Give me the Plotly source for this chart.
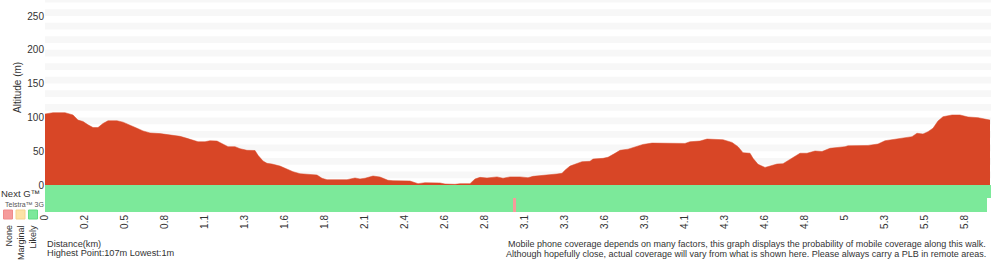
import plotly.graph_objects as go

# ---------------- data ----------------
sample_point = [0, 2, 5, 6.25, 7, 8.25, 9.5, 10.75, 12, 13.25, 14.5, 15.75, 18, 19.5, 21.25, 23, 24.5,
                26.25, 28.75, 32, 33.75, 35.5, 37, 38.25, 40, 41.25, 43, 44.5, 45.75, 47.5, 48.75, 50.5,
                52.5, 53.25, 54.5, 55.5, 56.75, 58.75, 60.5, 62, 63.75, 65.5, 68, 69.25, 70.5, 75.5,
                77.5, 78.75, 80, 82, 83.75, 85.75, 87, 91.25, 93.25, 95, 98.75, 100, 102.5, 103.75,
                106.25, 107.5, 108.75, 110.5, 113, 114.5, 116.25, 118.75, 120.75, 122, 125.5, 128,
                129.25, 130, 131.25, 132.5, 134.25, 136.25, 137, 139.5, 140.75, 142.5, 143.75, 145.75,
                147.5, 149.5, 151.75, 154.5, 155.5, 160, 161.25, 163.75, 165.5, 169.5, 171.75, 173.25,
                174.5, 176.25, 177, 178.25, 180, 181.25, 183, 184.5, 186.25, 188.75, 190.5, 192.5,
                194.25, 196.25, 200, 200.75, 205.75, 208.25, 210, 212.5, 215, 216.75, 218, 219.5,
                220.75, 222, 223.25, 224.5, 226.75, 228.75, 230.75, 233.25, 236.25]
altitude_m = [105, 107, 107, 105, 103.6, 96, 94, 89, 85, 85, 91, 95, 95, 93, 88, 84, 80,
              77, 76, 74, 72, 69, 66.6, 64, 64, 65.5, 65, 60.6, 56.7, 56.7, 53.7, 51.3,
              51, 44, 35.5, 32, 31, 28, 23.7, 19.7, 16.7, 15.8, 14.8, 9.9, 7.9, 7.9,
              10.4, 9, 10, 13.3, 11.8, 7, 6.4, 5.9, 2, 3.4, 3, 1.5, 1, 2,
              2, 8.9, 11.3, 10.4, 12, 10, 12, 12, 10.8, 12.8, 14.3, 16.3,
              17.3, 22, 28, 30.6, 34.5, 35, 38.5, 39.4, 41, 46.8, 51.3, 53,
              56.7, 60, 62, 62, 61, 61.5, 64, 65, 68, 67, 63, 56.7,
              47.8, 47, 39.5, 30.6, 26, 28, 31, 31.5, 38, 47, 47, 50.3,
              49.5, 54.3, 56.7, 58, 58.5, 60.6, 65.5, 67.6, 69, 71.5, 76.5, 75.4,
              78.9, 84, 94.7, 101, 103.6, 103.6, 100.6, 99.6, 96]

tick_points = [0, 10, 20, 30, 40, 50, 60, 70, 80, 90, 100, 110, 120, 130, 140, 150, 160, 170,
               180, 190, 200, 210, 220, 230]
distance_labels = ["0", "0.2", "0.5", "0.8", "1.1", "1.3", "1.6", "1.8", "2.1", "2.4", "2.6", "2.8",
                   "3.1", "3.3", "3.6", "3.9", "4.1", "4.3", "4.6", "4.8", "5", "5.3", "5.5", "5.8"]

# coverage segments (start, end in sample points, status)
nextg_start = [0]
nextg_end = [236.5]
nextg_status = ["Likely"]
g3_start = [0, 117.1, 117.75]
g3_end = [117.1, 117.75, 235.5]
g3_status = ["Likely", "None", "Likely"]

legend_labels = ["None", "Marginal", "Likely"]

# ---------------- style ----------------
FONT = "Liberation Sans, Arial, Helvetica, sans-serif"
RED = "#d84626"
status_colors = {"None": "#f59b9b", "Marginal": "#fde2a6", "Likely": "#7ce99a"}
legend_border = {"None": "#f08a8a", "Marginal": "#f6d38e", "Likely": "#63dc84"}

W, H = 1000, 260
ML, MR, MT, MB = 45, 9, 0, 48
PW, PH = W - ML - MR, H - MT - MB
ROWS_PX = 27
Y_TOP = 185 / 0.676  # altitude at top edge


def px_x(px):
    return (px - ML) / PW


def px_y(py):
    return (PH + MT - py) / PH


fig = go.Figure()

fig.add_trace(go.Scatter(
    x=sample_point, y=altitude_m, mode="lines", fill="tozeroy",
    line=dict(color=RED, width=0.5), fillcolor=RED, hoverinfo="skip",
    xaxis="x", yaxis="y", showlegend=False))

# coverage rows: 3G bottom (0-14.4), Next G top (14.4-27)
def add_row(starts, ends, statuses, y0, y1):
    for s, e, st in zip(starts, ends, statuses):
        fig.add_trace(go.Bar(
            orientation="h", y=[(y0 + y1) / 2], x=[e - s], base=[s], width=[y1 - y0],
            marker=dict(color=status_colors[st], line=dict(width=0)),
            xaxis="x", yaxis="y2", showlegend=False, hoverinfo="skip"))

add_row(g3_start, g3_end, g3_status, 0, 14.4)
add_row(nextg_start, nextg_end, nextg_status, 14.4, 27)

shapes = []
lo = 10
while lo < Y_TOP:
    shapes.append(dict(type="rect", xref="paper", yref="y", x0=0, x1=1, y0=lo, y1=min(lo + 10, Y_TOP),
                       fillcolor="#f7f7f7", line=dict(width=0), layer="below"))
    lo += 20

# legend squares
for i, lab in enumerate(legend_labels):
    x0 = 3.5 + i * 12.5
    shapes.append(dict(type="rect", xref="paper", yref="paper",
                       x0=px_x(x0), x1=px_x(x0 + 9), y0=px_y(219), y1=px_y(210),
                       fillcolor=status_colors[lab], line=dict(color=legend_border[lab], width=1)))

annotations = []
def ann(text, x, y, size, xanchor="left", yanchor="middle", angle=0, color="#333"):
    annotations.append(dict(text=text, xref="paper", yref="paper", x=px_x(x), y=px_y(y),
                            xanchor=xanchor, yanchor=yanchor, showarrow=False, textangle=angle,
                            font=dict(family=FONT, size=size, color=color)))

ann("Altitude (m)", 17, 88, 10, xanchor="center", angle=-90)
ann("Next G™", -1.5, 193, 9.5)
ann("Telstra™ 3G", 3, 204.5, 7, color="#555")
for i, lab in enumerate(legend_labels):
    ann(lab, 8.5 + i * 12, 223, 9, xanchor="center", yanchor="top", angle=-90)
ann("Distance(km)", 44.5, 243.5, 9.2)
ann("Highest Point:107m Lowest:1m", 44.5, 253.5, 9.2)
ann("Mobile phone coverage depends on many factors, this graph displays the probability of mobile coverage along this walk.",
    988, 243.5, 9, xanchor="right")
ann("Although hopefully close, actual coverage will vary from what is shown here. Please always carry a PLB in remote areas.",
    988, 254, 9, xanchor="right")

fig.update_layout(
    width=W, height=H,
    margin=dict(l=ML, r=MR, t=MT, b=MB, pad=0),
    paper_bgcolor="white", plot_bgcolor="white",
    barmode="overlay", bargap=0,
    font=dict(family=FONT, size=10, color="#333"),
    xaxis=dict(range=[0, 236.5], tickvals=tick_points, ticktext=distance_labels, tickangle=-90,
               showgrid=False, zeroline=False, showline=False, ticks="", anchor="y2",
               tickfont=dict(size=10, color="#333")),
    yaxis=dict(domain=[ROWS_PX / PH, 1], range=[0, Y_TOP], tickvals=[0, 50, 100, 150, 200, 250],
               showgrid=False, zeroline=False, showline=False, ticks="",
               tickfont=dict(size=10, color="#333"), anchor="x"),
    yaxis2=dict(domain=[0, ROWS_PX / PH], range=[0, ROWS_PX], showticklabels=False,
                showgrid=False, zeroline=False, showline=False, ticks="", anchor="x"),
    shapes=shapes, annotations=annotations,
    showlegend=False,
)

fig.write_html("out.html")
